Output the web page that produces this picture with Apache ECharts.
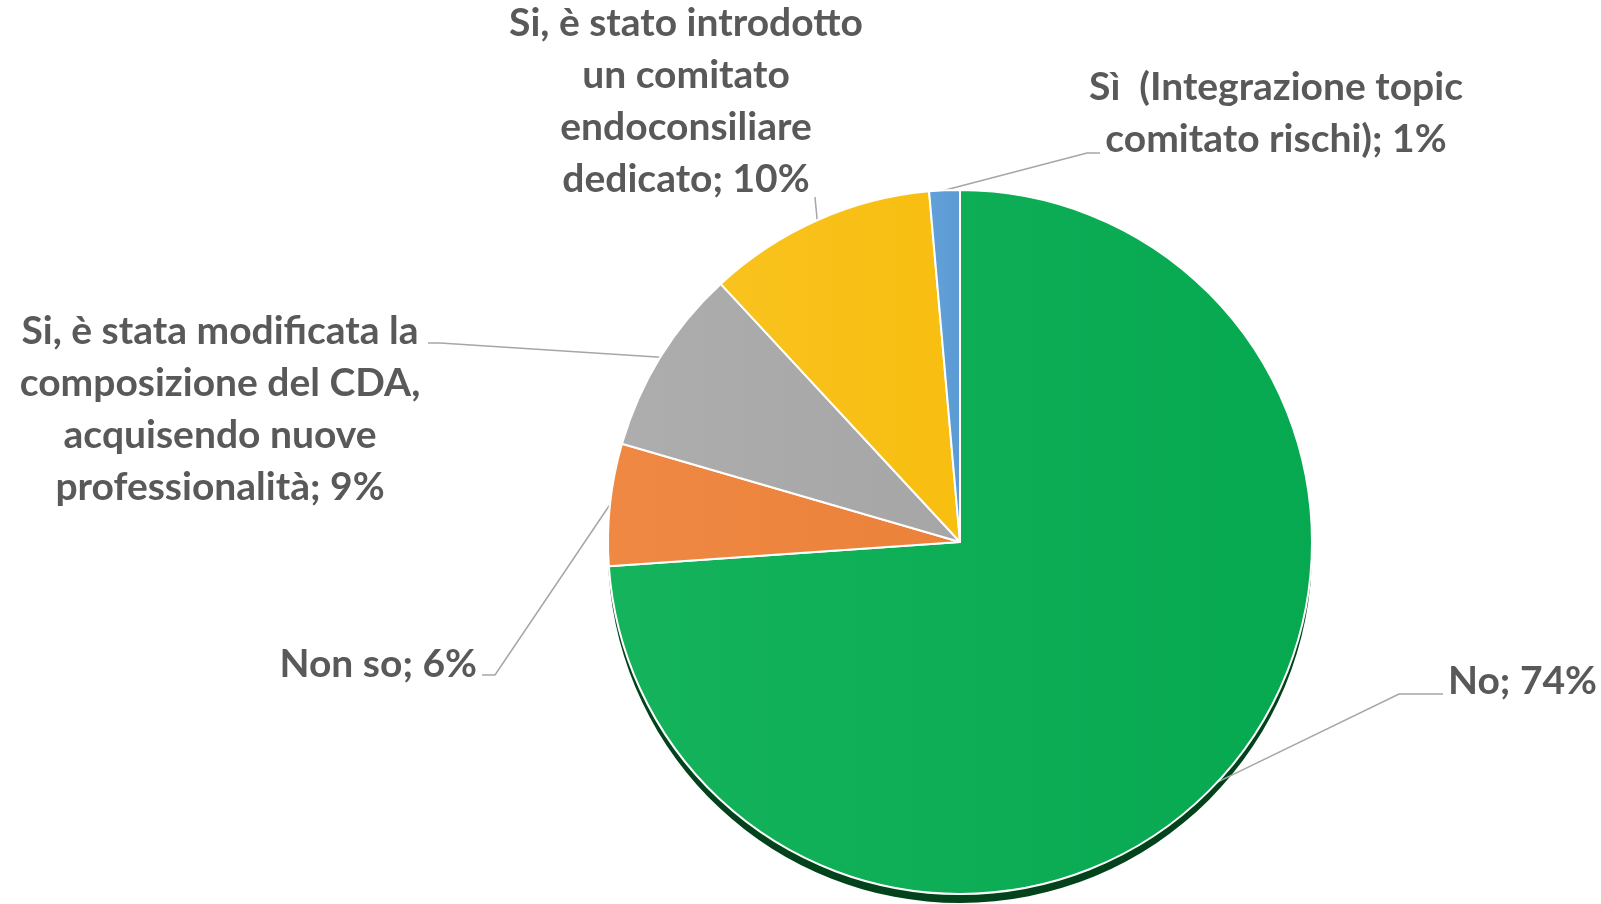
<!DOCTYPE html>
<html>
<head>
<meta charset="utf-8">
<script src="https://cdn.jsdelivr.net/npm/echarts@6/dist/echarts.min.js"></script>
<style>
html,body{margin:0;padding:0;background:#fff;}
#chart{width:1601px;height:904px;}
</style>
</head>
<body>
<div id="chart"></div>
<script>
// ---- data ----
const categories = [
  'No',
  'Non so',
  'Si, è stata modificata la\ncomposizione del CDA,\nacquisendo nuove\nprofessionalità',
  'Si, è stato introdotto\nun comitato\nendoconsiliare\ndedicato',
  'Sì  (Integrazione topic\ncomitato rischi)'
];
const shares = [73.9, 5.6, 8.6, 10.5, 1.4];
const sliceColors = ['#06A850', '#EC823A', '#A6A6A6', '#F8BE10', '#5B9BD5'];
const sliceLight  = ['#14B35C', '#EE8843', '#ADADAD', '#F9C21E', '#62A0D8'];

// ---- layout (label placement) ----
const labelPlacement = [
  {x: 1448, y: 681, align: 'left',   line: [[1399, 694], [1443, 694]]},
  {x: 477,  y: 664, align: 'right',  line: [[495, 675], [482, 675]]},
  {x: 220,  y: 409, align: 'center', line: [[440, 343], [428, 343]]},
  {x: 686,  y: 101, align: 'center', line: [[815, 197], [815, 197]]},
  {x: 1276, y: 113, align: 'center', line: [[1087, 153], [1100, 153]]}
];

const chart = echarts.init(document.getElementById('chart'), null, {renderer: 'canvas'});

const frontData = categories.map((c, i) => ({
  name: c,
  value: shares[i],
  itemStyle: {
    color: new echarts.graphic.LinearGradient(0, 0, 1, 0, [
      {offset: 0, color: sliceLight[i]},
      {offset: 1, color: sliceColors[i]}
    ])
  }
}));
const backData = categories.map((c, i) => ({name: c, value: shares[i]}));

chart.setOption({
  animation: false,
  backgroundColor: '#ffffff',
  series: [
    {
      type: 'pie',
      z: 1,
      silent: true,
      center: [960, 551],
      radius: 352,
      startAngle: 90,
      clockwise: true,
      data: backData,
      itemStyle: {color: '#02431C', borderWidth: 0},
      label: {show: false},
      labelLine: {show: false},
      emphasis: {disabled: true}
    },
    {
      type: 'pie',
      z: 2,
      center: [960, 542],
      radius: 352,
      startAngle: 90,
      clockwise: true,
      percentPrecision: 0,
      data: frontData,
      itemStyle: {borderColor: '#ffffff', borderWidth: 2},
      label: {
        show: true,
        position: 'outside',
        formatter: '{b}; {d}%',
        fontFamily: 'Lato',
        fontWeight: 'bold',
        fontSize: 39,
        lineHeight: 52,
        color: '#595959'
      },
      labelLine: {
        show: true,
        length: 20,
        length2: 20,
        lineStyle: {color: '#A6A6A6', width: 1.5}
      },
      labelLayout: function (params) {
        const p = labelPlacement[params.dataIndex];
        const pts = params.labelLinePoints;
        const start = pts ? pts[0] : p.line[0];
        return {
          x: p.x,
          y: p.y,
          align: p.align,
          verticalAlign: 'middle',
          labelLinePoints: [start, p.line[0], p.line[1]]
        };
      },
      emphasis: {disabled: true}
    }
  ]
});
</script>
</body>
</html>
